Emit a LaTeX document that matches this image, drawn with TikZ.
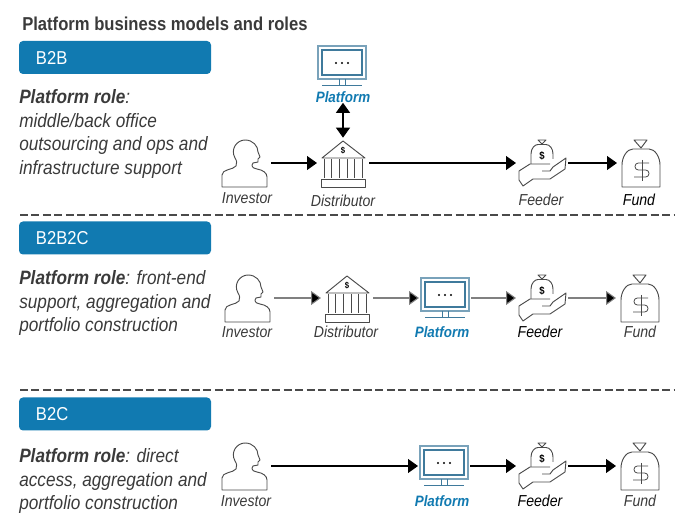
\documentclass[tikz,border=0pt]{standalone}
\usepackage{fontspec}
\setmainfont{Liberation Sans}[FakeStretch=0.89]
\usetikzlibrary{arrows.meta}
\definecolor{platblue}{HTML}{117AB1}
\definecolor{screenblue}{HTML}{3F7A9C}
\definecolor{labelgray}{HTML}{3A3A3A}
\definecolor{icongray}{HTML}{4A4A4A}
\tikzset{
    iconline/.style={draw=icongray,line width=.7pt,line join=round},
    iconbox/.style={minimum width=36pt,minimum height=35pt,inner sep=0pt,outer sep=1.5pt},
    rolebox/.style={fill=platblue,rounded corners=3pt,text=white,minimum height=24.75pt,text width=118.5pt,
        inner xsep=12.75pt,inner ysep=0pt,align=left,font=\fontsize{14}{16}\selectfont},
    roletext/.style={anchor=north west,inner sep=0pt,align=left,text=labelgray,
        font=\fontsize{14.5}{17.8}\selectfont\itshape},
    iconlabel/.style={inner sep=0pt,text=labelgray,font=\fontsize{11.9}{13}\selectfont\itshape},
    platlabel/.style={inner sep=0pt,text=platblue,font=\fontsize{11.3}{13}\selectfont\bfseries\itshape},
    flow/.style={-{Triangle[length=7.5pt,width=10.5pt]},line width=.8pt,black},
    flowgray/.style={-{Triangle[length=7.5pt,width=10.5pt,fill=black]},line width=.8pt,draw=gray},
    sepline/.style={draw=icongray,line width=1pt,dash pattern=on 6pt off 2.6pt},
    investor/.pic={
        \draw[iconline] (-23,24) -- (-23,12) .. controls (-23,6) and (-12,7) .. (-9,3)
            .. controls (-8,0) and (-8,-2) .. (-10,-5) .. controls (-15,-14) and (-8,-23) .. (0,-23)
            .. controls (8,-23) and (13,-17) .. (13,-11) -- (15,-6) -- (13,-4) -- (13,-1) -- (8,0)
            .. controls (6,3) and (7,5) .. (12,6) .. controls (18,7) and (22,10) .. (22,14) -- (22,24) -- cycle;
    },
    bank/.pic={
        \draw[iconline] (-21,-5) -- (0,-22) -- (22,-5) -- cycle;
        \draw[iconline] (-19,-4) -- (-19,15) (-11.5,-4) -- (-11.5,15) (-4,-4) -- (-4,15)
            (4,-4) -- (4,15) (11.5,-4) -- (11.5,15) (19,-4) -- (19,15);
        \draw[iconline] (-22,16) rectangle (22,24);
        \node (-dollar) [inner sep=0pt,font=\fontsize{6.5}{7}\selectfont\bfseries] at (0,-12) {\$};
    },
    monitor/.pic={
        \draw[draw=screenblue!70,line width=.8pt] (-24,-20) rectangle (24,13);
        \draw[draw=screenblue,line width=1pt] (-20,-16) rectangle (20,9);
        \draw[draw=screenblue,line width=.75pt] (-3,13) -- (-3,20) (3,13) -- (3,20) (-20,20) -- (20,20);
        \fill[black] (-6,-3) circle (1.1) (0,-3) circle (1.1) (6,-3) circle (1.1);
    },
    feeder/.pic={
        \draw[iconline] (-4,-23) -- (4,-23) -- (0,-19) -- cycle;
        \draw[iconline] (-11,1) -- (-11,-9) .. controls (-11,-15) and (-7,-18.5) .. (-4,-18.5) -- (4,-18.5)
            .. controls (8,-18.5) and (11,-14) .. (11,-9) -- (11,-4);
        \draw[iconline] (-23,8) -- (-12,1) -- (8,1) (0,8) -- (8,8) -- (11,4) -- (24,-5) -- (23,6) -- (8,16)
            -- (-9,16) -- (-19,23) -- (-23,17) -- (-23,8);
        \node (-dollar) [inner sep=0pt,font=\fontsize{8}{9}\selectfont\bfseries] at (0,-7) {\$};
    },
    fund/.pic={
        \draw[iconline] (-7,-23) -- (6,-23) -- (0,-15) -- cycle;
        \draw[iconline] (-19,24) -- (-19,2) .. controls (-19,-6) and (-14,-14) .. (-8,-14) -- (8,-14)
            .. controls (14,-14) and (19,-6) .. (19,2) -- (19,24) -- cycle;
        \draw[draw=icongray,line width=.6pt,rounded corners=2.5pt] (8,0) -- (-6,0) -- (-6,7) -- (8,7) -- (8,14) -- (-7,14);
        \draw[draw=icongray,line width=.6pt] (1,-3) -- (1,18);
    },
}
\begin{document}
\begin{tikzpicture}[x=.75pt,y=-.75pt]
        \useasboundingbox (0,0) rectangle (675,516);
        \node (title) [anchor=west,inner sep=0pt,text=labelgray,font=\fontsize{14}{16}\selectfont\bfseries] at (22,24) {Platform business models and roles};

        % row headers
        \node (b2b) [rolebox] at (115,57.5) {B2B};
        \node (b2b2c) [rolebox] at (115,238) {B2B2C};
        \node (b2c) [rolebox] at (115,414) {B2C};

        \node (role1) [roletext] at (19,89) {{\bfseries Platform role}:\\middle/back office\\outsourcing and ops and\\infrastructure support};
        \node (role2) [roletext] at (19,270) {{\bfseries Platform role}: front-end\\support, aggregation and\\portfolio construction};
        \node (role3) [roletext] at (19,448) {{\bfseries Platform role}: direct\\access, aggregation and\\portfolio construction};

        \coordinate (sep1l) at (20,215);
        \coordinate (sep1r) at (675,215);
        \coordinate (sep2l) at (20,390);
        \coordinate (sep2r) at (675,390);
        \path [sepline] (sep1l) -- (sep1r);
        \path [sepline] (sep2l) -- (sep2r);

        % B2B
        \begin{scope}[every node/.style={iconbox}]
            \node (inv1) at (245,163) {};
            \node (dist1) at (343,163) {};
            \node (plat1) at (342,66) {};
            \node (feed1) at (542,163) {};
            \node (fund1) [minimum width=33pt] at (641,163) {};
        \end{scope}
        \pic (inv1i) at (inv1) {investor};
        \pic (dist1i) at (dist1) {bank};
        \pic (plat1i) at (plat1) {monitor};
        \pic (feed1i) at (feed1) {feeder};
        \pic (fund1i) at (fund1) {fund};
        \node (inv1l) [iconlabel] at (247,198) {Investor};
        \node (dist1l) [iconlabel] at (343,201) {Distributor};
        \node (plat1l) [platlabel] at (343,97) {Platform};
        \node (feed1l) [iconlabel] at (541,200) {Feeder};
        \node (fund1l) [iconlabel,text=black] at (639,200) {Fund};
        \draw [flow] (inv1) -- (dist1);
        \draw [flow] (dist1) -- (feed1);
        \draw [flow] (feed1) -- (fund1);
        \draw [flow,{Triangle[length=7.5pt,width=10.5pt]}-{Triangle[length=7.5pt,width=10.5pt]}] (plat1l) -- (dist1);

        % B2B2C
        \begin{scope}[every node/.style={iconbox}]
            \node (inv2) at (248,298) {};
            \node (dist2) at (347,298) {};
            \node (plat2) at (445,298) {};
            \node (feed2) at (542,298) {};
            \node (fund2) [minimum width=33pt] at (640,298) {};
        \end{scope}
        \pic (inv2i) at (inv2) {investor};
        \pic (dist2i) at (dist2) {bank};
        \pic (plat2i) at (plat2) {monitor};
        \pic (feed2i) at (feed2) {feeder};
        \pic (fund2i) at (fund2) {fund};
        \node (inv2l) [iconlabel] at (247,332) {Investor};
        \node (dist2l) [iconlabel] at (346,332) {Distributor};
        \node (plat2l) [platlabel] at (442,332) {Platform};
        \node (feed2l) [iconlabel,text=black] at (540,332) {Feeder};
        \node (fund2l) [iconlabel] at (640,332) {Fund};
        \draw [flowgray] (inv2) -- (dist2);
        \draw [flowgray] (dist2) -- (plat2);
        \draw [flowgray] (plat2) -- (feed2);
        \draw [flowgray] (feed2) -- (fund2);

        % B2C
        \begin{scope}[every node/.style={iconbox}]
            \node (inv3) at (245,466) {};
            \node (plat3) at (444,466) {};
            \node (feed3) at (542,466) {};
            \node (fund3) [minimum width=33pt] at (640,466) {};
        \end{scope}
        \pic (inv3i) at (inv3) {investor};
        \pic (plat3i) at (plat3) {monitor};
        \pic (feed3i) at (feed3) {feeder};
        \pic (fund3i) at (fund3) {fund};
        \node (inv3l) [iconlabel] at (246,501) {Investor};
        \node (plat3l) [platlabel] at (442,501) {Platform};
        \node (feed3l) [iconlabel,text=black] at (540,501) {Feeder};
        \node (fund3l) [iconlabel] at (640,501) {Fund};
        \draw [flow] (inv3) -- (plat3);
        \draw [flow] (plat3) -- (feed3);
        \draw [flow] (feed3) -- (fund3);
\end{tikzpicture}
\end{document}
